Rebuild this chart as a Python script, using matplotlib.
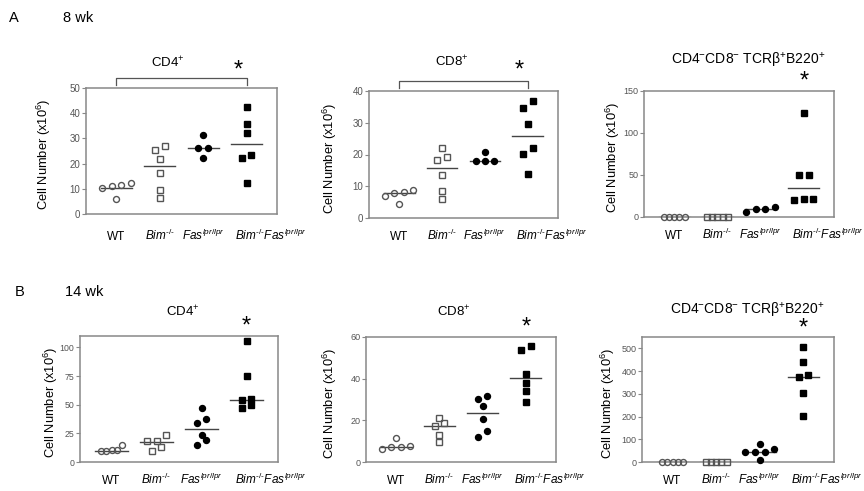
import matplotlib
matplotlib.use("Agg")
import matplotlib.pyplot as plt
import numpy as np

plt.rcParams["font.family"] = ["Liberation Sans", "DejaVu Sans"]
plt.rcParams["mathtext.fontset"] = "custom"
plt.rcParams["mathtext.rm"] = "Liberation Sans"
plt.rcParams["mathtext.it"] = "Liberation Sans:italic"
plt.rcParams["mathtext.bf"] = "Liberation Sans:bold"

GROUPS = [
    "WT",
    r"$\mathit{Bim}^{‐/‐}$",
    r"$\mathit{Fas}^{lpr/lpr}$",
    r"$\mathit{Bim}^{‐/‐}\mathit{Fas}^{lpr/lpr}$",
]

# 8 wk, values x10^6 cells, one list per genotype
cd4_8wk = [
    [12.2, 11.6, 11.2, 10.4, 5.8],
    [26.9, 25.5, 22.0, 16.3, 9.7, 6.3],
    [31.5, 26.2, 26.2, 22.2],
    [42.5, 35.8, 32.1, 23.5, 22.2, 12.4],
]
cd4_8wk_mean = [10.5, 18.9, 26.2, 27.8]

cd8_8wk = [
    [8.7, 8.3, 7.9, 6.8, 4.3],
    [22.1, 19.1, 18.3, 13.4, 8.4, 6.1],
    [20.8, 17.8, 17.8, 17.8],
    [36.9, 34.8, 29.7, 22.1, 20.1, 14.0],
]
cd8_8wk_mean = [8.0, 15.7, 17.8, 25.8]

dn_8wk = [
    [0, 0, 0, 0, 0],
    [0, 0, 0, 0, 0],
    [12, 10, 10, 6],
    [124.4, 49.6, 49.6, 22, 22, 19.7],
]
dn_8wk_mean = [0, 0, 10, 35]

# 14 wk
cd4_14wk = [
    [14.5, 10.5, 10.5, 9.5, 9.5],
    [24, 18, 18, 13, 9.5],
    [47.4, 37.7, 33.9, 24, 19.6, 15.2],
    [105.8, 75.1, 54.7, 53.8, 49.4, 47.4],
]
cd4_14wk_mean = [10, 17.3, 28.4, 53.8]

cd8_14wk = [
    [11.5, 7.8, 7.2, 7.0, 6.4],
    [21, 18.5, 17.5, 13, 9.5],
    [31.8, 30.4, 26.7, 20.7, 14.9, 11.9],
    [55.5, 53.7, 42.2, 38.1, 34, 29],
]
cd8_14wk_mean = [7, 17.3, 23.7, 40.1]

dn_14wk = [
    [0, 0, 0, 0, 0],
    [0, 0, 0, 0, 0],
    [79, 57, 44, 44, 44, 7],
    [507, 440, 381, 372, 304, 201],
]
dn_14wk_mean = [0, 0, 44, 375]

TITLE_CD4 = r"CD4$^{+}$"
TITLE_CD8 = r"CD8$^{+}$"
TITLE_DN = r"CD4$^{-}$CD8$^{-}$ TCRβ$^{+}$B220$^{+}$"

MARKERS = [
    ("o", "none", "#555555"),
    ("s", "none", "#555555"),
    ("o", "black", "black"),
    ("s", "black", "black"),
]
# pixel shift of each genotype label (the long last one sits to the right)
LABEL_DX = [0, 0, 0, 24]

W, H = 864, 491


def px_axes(left, top, right, bottom):
    return [left / W, 1 - bottom / H, (right - left) / W, (bottom - top) / H]


def swarm(values, ymark):
    # put points of similar value side by side, centred on the category
    order = np.argsort(values, kind="stable")
    offsets = np.zeros(len(values))
    rows = []
    for i in order:
        if rows and values[i] - values[rows[-1][0]] < ymark:
            rows[-1].append(i)
        else:
            rows.append([i])
    for row in rows:
        n = len(row)
        step = 0.22 if n <= 4 else 0.12
        for k, i in enumerate(row):
            offsets[i] = (k - (n - 1) / 2) * step
    return offsets


def draw_panel(ax, groups, mids, ymax, yticks, title, title_xy, ylabel_x, star_xy,
               bracket=False, label_dy=22, tick_size=7):
    ax.set_xlim(-0.7, 3.7)
    ax.set_ylim(0, ymax)
    ymark = 7 / ax.bbox.height * ymax
    for g, (vals, mid, (mk, fc, ec)) in enumerate(zip(groups, mids, MARKERS)):
        vals = np.asarray(vals, dtype=float)
        x = g + swarm(vals, ymark)
        ax.plot(x, vals, linestyle="none", marker=mk, ms=4.3, mfc=fc, mec=ec,
                mew=1.0, clip_on=False, zorder=3)
        ax.plot([g - 0.36, g + 0.36], [mid, mid], color="#444444", lw=1, zorder=2)

    ax.set_xticks([])
    for i, lab in enumerate(GROUPS):
        ax.annotate(lab, xy=(i, 0), xycoords=("data", "axes fraction"),
                    xytext=(LABEL_DX[i], -label_dy), textcoords="offset pixels",
                    ha="center", va="baseline", fontsize=8.5, annotation_clip=False)
    ax.set_yticks(yticks)
    ax.tick_params(axis="y", length=3, width=0.8, color="#888888",
                   labelcolor="#555555", labelsize=tick_size, pad=1)
    for sp in ax.spines.values():
        sp.set_color("#888888")
        sp.set_linewidth(1.1)

    ax.set_ylabel(r"Cell Number (x10$^{6}$)", fontsize=9.3)
    ax.yaxis.set_label_coords(ylabel_x, 0.47)
    ax.text(title_xy[0], title_xy[1], title, transform=ax.transAxes,
            ha="center", va="center", fontsize=9.5 if len(title) < 20 else 10)
    ax.text(star_xy[0], star_xy[1], "*", transform=ax.get_xaxis_transform(),
            ha="center", va="center", fontsize=17)
    if bracket:
        ax.plot([0, 0, 3, 3], [1.024, 1.079, 1.079, 1.024],
                transform=ax.get_xaxis_transform(), color="#555555",
                lw=0.9, clip_on=False)


fig = plt.figure(figsize=(8.64, 4.91), dpi=100)

ax1 = fig.add_axes(px_axes(86, 88, 277, 214))
draw_panel(ax1, cd4_8wk, cd4_8wk_mean, 50, [0, 10, 20, 30, 40, 50], TITLE_CD4,
           (0.43, 1.2), -0.173, (2.8, 1.14), bracket=True, label_dy=26)

ax2 = fig.add_axes(px_axes(369, 91, 558, 218))
draw_panel(ax2, cd8_8wk, cd8_8wk_mean, 40, [0, 10, 20, 30, 40], TITLE_CD8,
           (0.44, 1.23), -0.159, (2.8, 1.16), bracket=True)

ax3 = fig.add_axes(px_axes(644, 91, 834, 217))
draw_panel(ax3, dn_8wk, dn_8wk_mean, 150, [0, 50, 100, 150], TITLE_DN,
           (0.55, 1.24), -0.115, (3.0, 1.075), tick_size=6.5)

ax4 = fig.add_axes(px_axes(80, 336, 278, 462))
draw_panel(ax4, cd4_14wk, cd4_14wk_mean, 110, [0, 25, 50, 75, 100], TITLE_CD4,
           (0.52, 1.19), -0.1, (3.0, 1.072), tick_size=6.3)

ax5 = fig.add_axes(px_axes(366, 337, 556, 462))
draw_panel(ax5, cd8_14wk, cd8_14wk_mean, 60, [0, 20, 40, 60], TITLE_CD8,
           (0.46, 1.2), -0.142, (3.0, 1.072), tick_size=6.5)

ax6 = fig.add_axes(px_axes(642, 337, 834, 462))
draw_panel(ax6, dn_14wk, dn_14wk_mean, 550, [0, 100, 200, 300, 400, 500], TITLE_DN,
           (0.55, 1.215), -0.13, (3.0, 1.068), tick_size=6.5)

fig.text(14 / W, 1 - 18 / H, "A", fontsize=10.5, ha="center", va="center")
fig.text(63 / W, 1 - 18 / H, "8 wk", fontsize=10.5, ha="left", va="center")
fig.text(20 / W, 1 - 292 / H, "B", fontsize=10.5, ha="center", va="center")
fig.text(65 / W, 1 - 292 / H, "14 wk", fontsize=10.5, ha="left", va="center")

fig.savefig("out.png", dpi=100)
